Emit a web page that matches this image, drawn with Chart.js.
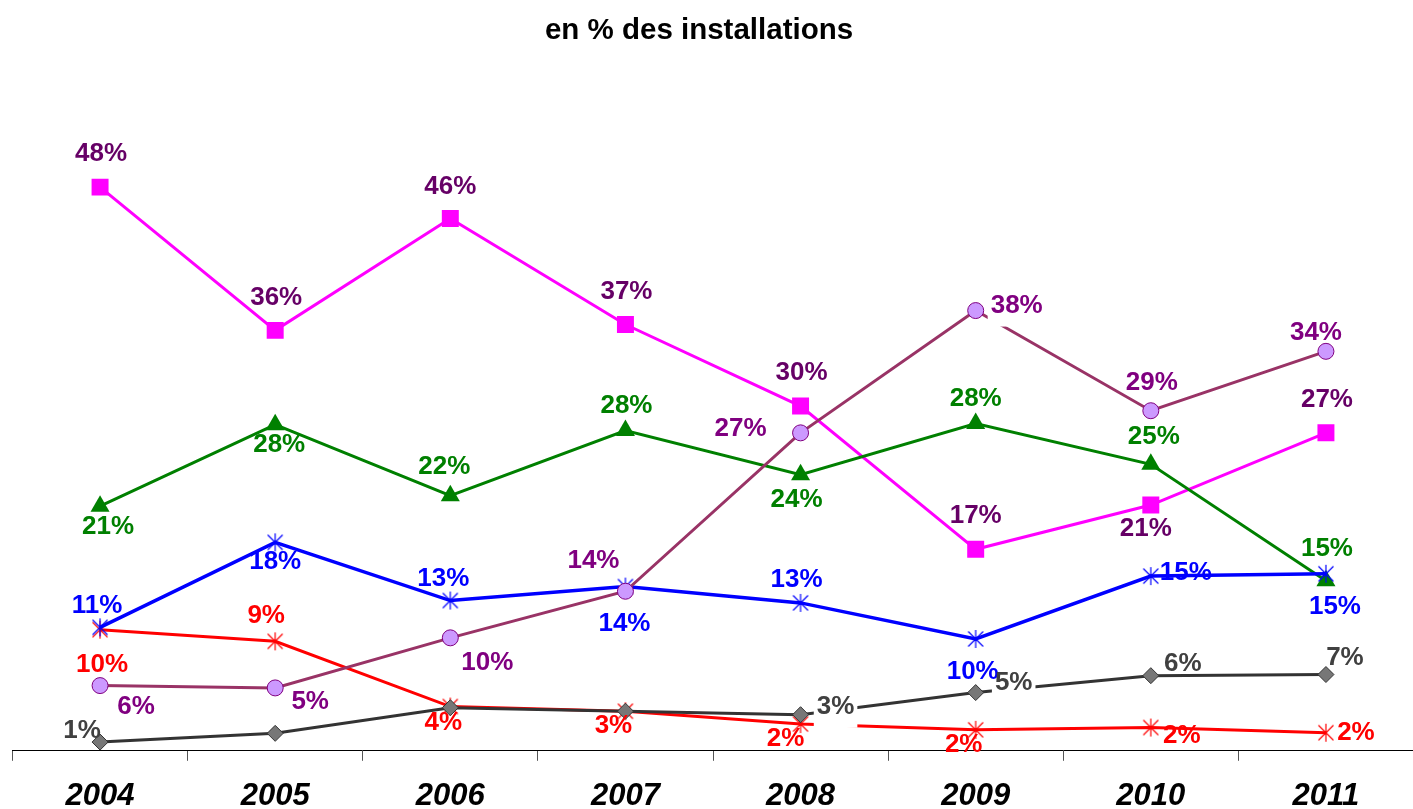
<!DOCTYPE html>
<html>
<head>
<meta charset="utf-8">
<script src="https://cdn.jsdelivr.net/npm/chart.js@4.4.1/dist/chart.umd.min.js"></script>
<style>
    html, body { margin: 0; padding: 0; background: #fff; overflow: hidden; }
    #wrap { position: absolute; left: 0; top: 0; width: 1413px; height: 809px; overflow: hidden; }
    #evolChart { display: block; }
</style>
</head>
<body>
<div id="wrap"><canvas id="evolChart" width="1426" height="832"></canvas></div>
<script>
// Data
const years = ['2004', '2005', '2006', '2007', '2008', '2009', '2010', '2011'];
const magentaSeries = [48.4, 36.1, 45.7, 36.6, 29.6, 17.3, 21.1, 27.3];
const purpleSeries = [5.6, 5.4, 9.7, 13.7, 27.3, 37.8, 29.2, 34.3];
const greenSeries = [21.0, 28.0, 21.9, 27.5, 23.7, 28.1, 24.6, 14.6];
const blueSeries = [10.6, 17.9, 12.9, 14.1, 12.7, 9.6, 15.0, 15.2];
const redSeries = [10.4, 9.4, 3.8, 3.4, 2.3, 1.8, 2.0, 1.55];
const graySeries = [0.75, 1.5, 3.7, 3.4, 3.1, 5.0, 6.45, 6.55];

// Label placement: offset of label centre from its point [dx, dy, whiteBox]
const magentaPos = [[1, -33], [1, -33], [0, -32], [1, -33], [1, -33], [0, -33], [-5, 24], [1, -33]];
const purplePos = [[36, 21], [35, 14], [37, 25], [-32, -30], [-60, -4, true], [41, -5, true], [1, -28], [-10, -19]];
const greenPos = [[8, 21], [4, 20], [-6, -29], [1, -25], [-4, 25], [0, -25], [3, -27], [1, -32]];
const bluePos = [[-3, -22], [0, 19], [-7, -22], [-1, 37], [-4, -23], [-3, 33], [35, -3], [9, 33]];
const redPos = [[2, 35], [-9, -25], [-7, 16], [-12, 15], [-15, 15], [-12, 15], [31, 8], [30, 0]];
const grayPos = [[-18, -11], null, null, null, [35, -8, true], [38, -10, true], [32, -12], [19, -17]];

const FONT = "'Liberation Sans', Arial, sans-serif";
const TITLE = 'en % des installations';

// Excel-like asterisk marker (X plus vertical bar)
const makeStar = (color) => {
    const c = document.createElement('canvas');
    c.width = 20; c.height = 20;
    const g = c.getContext('2d');
    g.strokeStyle = color;
    g.lineWidth = 1.2;
    g.beginPath();
    g.moveTo(2.5, 2.5); g.lineTo(17.5, 17.5);
    g.moveTo(17.5, 2.5); g.lineTo(2.5, 17.5);
    g.moveTo(10, 1); g.lineTo(10, 19);
    g.stroke();
    return c;
};

// Title drawn by hand (it sits a little left of the canvas centre)
const chartTitle = {
    id: 'chartTitle',
    afterDraw(chart) {
        const ctx = chart.ctx;
        ctx.save();
        ctx.font = 'bold 29.5px ' + FONT;
        ctx.fillStyle = '#000';
        ctx.textAlign = 'center';
        ctx.textBaseline = 'middle';
        ctx.fillText(TITLE, 699, 31);
        ctx.restore();
    }
};

// Data labels drawn on top of everything
const valueLabels = {
    id: 'valueLabels',
    afterDatasetsDraw(chart) {
        const ctx = chart.ctx;
        ctx.save();
        ctx.font = 'bold 26px ' + FONT;
        ctx.textAlign = 'center';
        ctx.textBaseline = 'middle';
        const items = [];
        chart.data.datasets.forEach((ds, di) => {
            const meta = chart.getDatasetMeta(di);
            ds.data.forEach((v, i) => {
                const p = ds.labelPos[i];
                if (!p) return;
                const pt = meta.data[i];
                items.push({ x: pt.x + p[0], y: pt.y + p[1], bg: !!p[2], text: Math.round(v) + '%', color: ds.labelColor });
            });
        });
        items.filter(it => it.bg).forEach(it => {
            const w = ctx.measureText(it.text).width + 6;
            ctx.fillStyle = '#fff';
            ctx.fillRect(it.x - w / 2, it.y - 16, w, 37);
        });
        items.forEach(it => {
            ctx.fillStyle = it.color;
            ctx.fillText(it.text, it.x, it.y);
        });
        ctx.restore();
    }
};

const ctx = document.getElementById('evolChart').getContext('2d');
new Chart(ctx, {
    type: 'line',
    data: {
        labels: years,
        datasets: [
            {
                data: magentaSeries, labelPos: magentaPos, labelColor: '#660066',
                borderColor: '#FF00FF', borderWidth: 3,
                pointStyle: 'rect', pointRadius: 12,
                pointBackgroundColor: '#FF00FF', pointBorderColor: '#FF00FF', pointBorderWidth: 0,
                order: 5
            },
            {
                data: greenSeries, labelPos: greenPos, labelColor: '#008000',
                borderColor: '#008000', borderWidth: 3,
                pointStyle: 'triangle', pointRadius: 11,
                pointBackgroundColor: '#008000', pointBorderColor: '#008000', pointBorderWidth: 0,
                order: 4
            },
            {
                data: redSeries, labelPos: redPos, labelColor: '#FF0000',
                borderColor: '#FF0000', borderWidth: 3,
                pointStyle: makeStar('#FF0000'), pointRadius: 9,
                order: 3
            },
            {
                data: blueSeries, labelPos: bluePos, labelColor: '#0000FF',
                borderColor: '#0000FF', borderWidth: 3.5,
                pointStyle: makeStar('#0000FF'), pointRadius: 9,
                order: 2
            },
            {
                data: purpleSeries, labelPos: purplePos, labelColor: '#800080',
                borderColor: '#993366', borderWidth: 3,
                pointStyle: 'circle', pointRadius: 8,
                pointBackgroundColor: '#CC99FF', pointBorderColor: '#800080', pointBorderWidth: 1,
                order: 1
            },
            {
                data: graySeries, labelPos: grayPos, labelColor: '#404040',
                borderColor: '#333333', borderWidth: 3,
                pointStyle: 'rectRot', pointRadius: 8,
                pointBackgroundColor: '#777777', pointBorderColor: '#333333', pointBorderWidth: 1,
                order: 0
            }
        ]
    },
    options: {
        responsive: false,
        animation: false,
        layout: { padding: { left: 10, right: 0, top: 110.25, bottom: 0 } },
        plugins: {
            legend: { display: false },
            tooltip: { enabled: false },
            title: { display: false }
        },
        scales: {
            y: { display: false, min: 0, max: 55 },
            x: {
                offset: true,
                grid: {
                    offset: true, drawOnChartArea: false, drawTicks: true,
                    tickLength: 10, color: '#555', lineWidth: 1
                },
                border: { display: true, color: '#000', width: 1 },
                ticks: {
                    color: '#000', padding: 17,
                    font: { family: FONT, size: 31, weight: 'bold', style: 'italic' }
                }
            }
        }
    },
    plugins: [valueLabels, chartTitle]
});
</script>
</body>
</html>
